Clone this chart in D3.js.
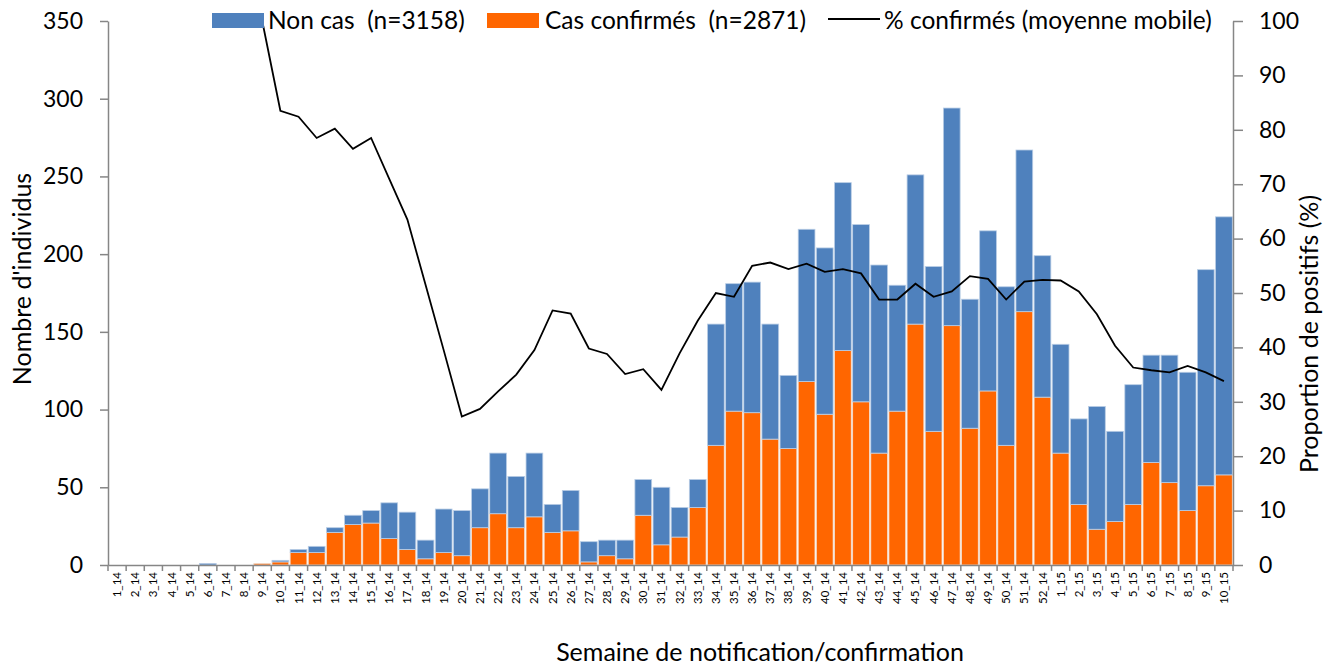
<!DOCTYPE html>
<html lang="fr">
<head>
<meta charset="utf-8">
<title>Cas confirmés par semaine</title>
<script src="https://cdn.jsdelivr.net/npm/d3@7/dist/d3.min.js"></script>
<style>
  body { margin: 0; background: #fff; }
  text { font-family: Lato, "Open Sans", sans-serif; fill: #000; }
  .axis path, .axis line { stroke: #868686; stroke-width: 1.5; }
  .axis text { font-size: 23px; }
  .xaxis text { font-size: 11.5px; }
</style>
</head>
<body>
<script>
var w = 1336;
var h = 667;

// semaines 1_14 .. 52_14 puis 1_15 .. 10_15
var weeks = [];
for (var i = 1; i <= 52; i++) weeks.push(i + "_14");
for (var j = 1; j <= 10; j++) weeks.push(j + "_15");

// cas confirmés par semaine
var confirmes = [0,0,0,0,0,0,0,0,1,2,
                 8,8,21,26,27,17,10,4,8,6,
                 24,33,24,31,21,22,2,6,4,32,
                 13,18,37,77,99,98,81,75,118,97,
                 138,105,72,99,155,86,154,88,112,77,
                 163,108,
                 72,39,23,28,39,66,53,35,51,58];

// non cas par semaine
var nonCas = [0,0,0,0,0,1,0,0,0,1,
              2,4,3,6,8,23,24,12,28,29,
              25,39,33,41,18,26,13,10,12,23,
              37,19,18,78,82,84,74,47,98,107,
              108,114,121,81,96,106,140,83,103,102,
              104,91,
              70,55,79,58,77,69,82,89,139,166];

// % confirmés (moyenne mobile), null = pas de valeur
var pctMobile = [null,null,null,null,null,null,null,null,100,83.5,
                 82.4,78.5,80.2,76.5,78.5,71,63.5,51.5,39.5,27.3,
                 28.7,31.9,35.0,39.5,46.8,46.2,39.8,38.8,35.1,36.0,
                 32.2,38.9,44.9,50.0,49.3,55.0,55.6,54.4,55.4,53.9,
                 54.4,53.6,48.8,48.8,51.7,49.3,50.3,53.1,52.6,48.8,
                 52.1,52.4,
                 52.3,50.3,46.1,40.3,36.3,35.8,35.4,36.6,35.4,33.8];

var leftTicks = [0,50,100,150,200,250,300,350];
var rightTicks = [0,10,20,30,40,50,60,70,80,90,100];

var x0 = 108, x1 = 1233, yTop = 21, yBase = 565;

var data = weeks.map(function(d, i) {
  return { week: d, conf: confirmes[i], non: nonCas[i], pct: pctMobile[i] };
});

var xScale = d3.scaleBand().domain(weeks).range([x0, x1]).padding(0);
var yScale = d3.scaleLinear().domain([0, 350]).range([yBase, yTop]);
var y2Scale = d3.scaleLinear().domain([0, 100]).range([yBase, yTop]);

var svg = d3.select("body").append("svg")
  .attr("width", w)
  .attr("height", h);

var bw = xScale.bandwidth();
var inset = 0.7;

// barres : confirmés en bas, non cas au-dessus
var bars = svg.append("g");
bars.selectAll("rect.conf")
  .data(data.filter(function(d){ return d.conf > 0; }))
  .enter().append("rect")
  .attr("class", "conf")
  .attr("x", function(d){ return xScale(d.week) + inset; })
  .attr("width", bw - 2 * inset)
  .attr("y", function(d){ return yScale(d.conf); })
  .attr("height", function(d){ return yBase - yScale(d.conf); })
  .attr("fill", "#ff6600")
  .attr("stroke", "#f2dccd")
  .attr("stroke-width", 0.8);

bars.selectAll("rect.non")
  .data(data.filter(function(d){ return d.non > 0; }))
  .enter().append("rect")
  .attr("class", "non")
  .attr("x", function(d){ return xScale(d.week) + inset; })
  .attr("width", bw - 2 * inset)
  .attr("y", function(d){ return yScale(d.conf + d.non); })
  .attr("height", function(d){ return yScale(d.conf) - yScale(d.conf + d.non); })
  .attr("fill", "#4f81bd")
  .attr("stroke", "#b9cde5")
  .attr("stroke-width", 0.8);

// ligne moyenne mobile
var line = d3.line()
  .defined(function(d){ return d.pct !== null; })
  .x(function(d){ return xScale(d.week) + bw / 2; })
  .y(function(d){ return y2Scale(d.pct); });

svg.append("path")
  .datum(data)
  .attr("d", line)
  .attr("fill", "none")
  .attr("stroke", "#000")
  .attr("stroke-width", 1.8)
  .attr("stroke-linejoin", "miter");

// axes
var yAxis = d3.axisLeft(yScale).tickValues(leftTicks).tickSize(8).tickPadding(17).tickSizeOuter(0);
svg.append("g")
  .attr("class", "axis")
  .attr("transform", "translate(" + x0 + ",0)")
  .call(yAxis);

var y2Axis = d3.axisRight(y2Scale).tickValues(rightTicks).tickSize(10).tickPadding(16).tickSizeOuter(0);
svg.append("g")
  .attr("class", "axis")
  .attr("transform", "translate(" + x1 + ",0)")
  .call(y2Axis);

var xAxis = d3.axisBottom(xScale).tickSize(0).tickSizeOuter(0);
var gx = svg.append("g")
  .attr("class", "axis xaxis")
  .attr("transform", "translate(0," + yBase + ")")
  .call(xAxis);
gx.selectAll("text")
  .attr("transform", "rotate(-90)")
  .attr("x", -7)
  .attr("y", 0)
  .attr("dy", "0.35em")
  .style("text-anchor", "end");

// petits traits entre les semaines
gx.selectAll("line.sep")
  .data(weeks.concat(["fin"]))
  .enter().append("line")
  .attr("class", "sep")
  .attr("x1", function(d){ return d === "fin" ? x1 : xScale(d); })
  .attr("x2", function(d){ return d === "fin" ? x1 : xScale(d); })
  .attr("y1", 0)
  .attr("y2", 6);

// titres des axes
svg.append("text")
  .attr("transform", "translate(31,279) rotate(-90)")
  .attr("text-anchor", "middle")
  .style("font-size", "25px")
  .text("Nombre d'individus");

svg.append("text")
  .attr("transform", "translate(1318,334) rotate(-90)")
  .attr("text-anchor", "middle")
  .style("font-size", "25px")
  .text("Proportion de positifs (%)");

svg.append("text")
  .attr("x", 760)
  .attr("y", 661)
  .attr("text-anchor", "middle")
  .style("font-size", "25px")
  .text("Semaine de notification/confirmation");

// légende
var legend = svg.append("g");
legend.append("rect").attr("x", 212).attr("y", 13).attr("width", 52).attr("height", 15).attr("fill", "#4f81bd");
legend.append("text").attr("x", 268).attr("y", 29).style("font-size", "24.5px").style("white-space", "pre")
  .text("Non cas  (n=3158)");
legend.append("rect").attr("x", 487).attr("y", 13).attr("width", 52).attr("height", 15).attr("fill", "#ff6600");
legend.append("text").attr("x", 545).attr("y", 29).style("font-size", "24.5px").style("white-space", "pre")
  .text("Cas confirmés  (n=2871)");
legend.append("line").attr("x1", 828).attr("x2", 880).attr("y1", 19).attr("y2", 19)
  .attr("stroke", "#000").attr("stroke-width", 1.8);
legend.append("text").attr("x", 884).attr("y", 29).style("font-size", "24.5px")
  .text("% confirmés (moyenne mobile)");
</script>
</body>
</html>
